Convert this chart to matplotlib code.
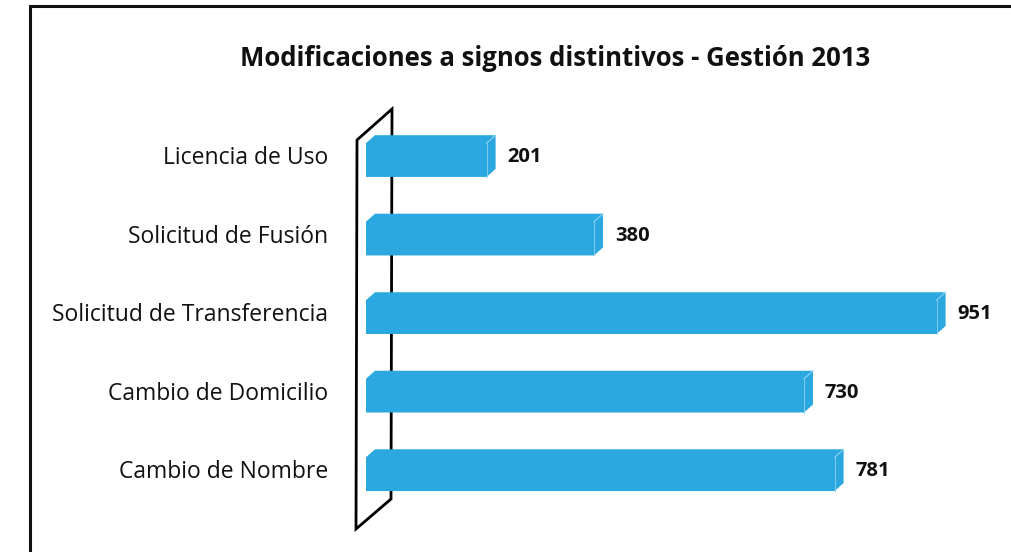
import matplotlib
matplotlib.use("Agg")
import matplotlib.pyplot as plt
from matplotlib.patches import Polygon, Rectangle
import matplotlib.transforms as mtransforms

# Datos
categorias = ["Licencia de Uso", "Solicitud de Fusión", "Solicitud de Transferencia",
              "Cambio de Domicilio", "Cambio de Nombre"]
valores = [201, 380, 951, 730, 781]
titulo = "Modificaciones a signos distintivos - Gestión 2013"

W, H = 1012, 552
fig = plt.figure(figsize=(W / 100, H / 100), dpi=100)
plt.rcParams['font.family'] = ['Open Sans', 'DejaVu Sans']

azul = "#2BA8E0"
borde_claro = "#8FD0F0"

# Marco exterior (cortado a la derecha y abajo)
fig.patches.append(Rectangle((30 / W, -0.1), 1.2, 1 - 6 / H + 0.1, transform=fig.transFigure,
                             fill=False, edgecolor="#111111", linewidth=2.2))

# Ejes: x=0 en 366 px, ylim elegido para centrar las barras
ax = fig.add_axes([366 / W, 1 - 515 / H, 600 / W, 395 / H])
ax.set_xlim(0, 1000)
ax.set_ylim(4.52, -0.51)
ax.axis("off")

# Pared lateral izquierda (detras de las barras)
pared = [(357, 140), (392, 109), (391, 499), (356, 529)]
ax.add_patch(Polygon([(x / W, 1 - y / H) for x, y in pared], closed=True,
                     transform=fig.transFigure, facecolor="white",
                     edgecolor="black", linewidth=2.0, zorder=1, clip_on=False))

alto = 0.43
ypos = list(range(len(categorias)))

# profundidad 3D en pixeles
dx_px, dy_px = 9, 8
inv = ax.transData.inverted()
x_o, y_o = ax.transData.transform((0, 0))
dx, dy = inv.transform((x_o + dx_px, y_o + dy_px))

for y, v in zip(ypos, valores):
    yt, yb = y - alto / 2, y + alto / 2
    barra = [(0, yb), (0, yt), (dx, yt + dy), (v + dx, yt + dy),
             (v + dx, yb + dy), (v, yb)]
    ax.add_patch(Polygon(barra, closed=True, facecolor=azul, edgecolor="none", zorder=3))
    ax.plot([v, v + dx], [yt, yt + dy], color=borde_claro, lw=0.8, zorder=4)
    ax.plot([v, v], [yt, yb], color=borde_claro, lw=0.6, zorder=4)
    off = mtransforms.offset_copy(ax.transData, fig=fig, x=dx_px + 12, y=3, units='dots')
    ax.text(v, y, f"{v}", transform=off, ha="left", va="center",
            fontsize=14.5, fontweight="bold", color="#111111", zorder=5)

# Etiquetas de categoria
for y, c in zip(ypos, categorias):
    lab = mtransforms.offset_copy(ax.transData, fig=fig, x=-38, y=2, units='dots')
    ax.text(0, y, c, transform=lab, ha="right", va="center", fontsize=16.5, color="#111111")

fig.text(555 / W, 1 - 58 / H, titulo, ha="center", va="center",
         fontsize=18.5, fontweight="bold", color="#111111")

fig.savefig("out.png", dpi=100)
